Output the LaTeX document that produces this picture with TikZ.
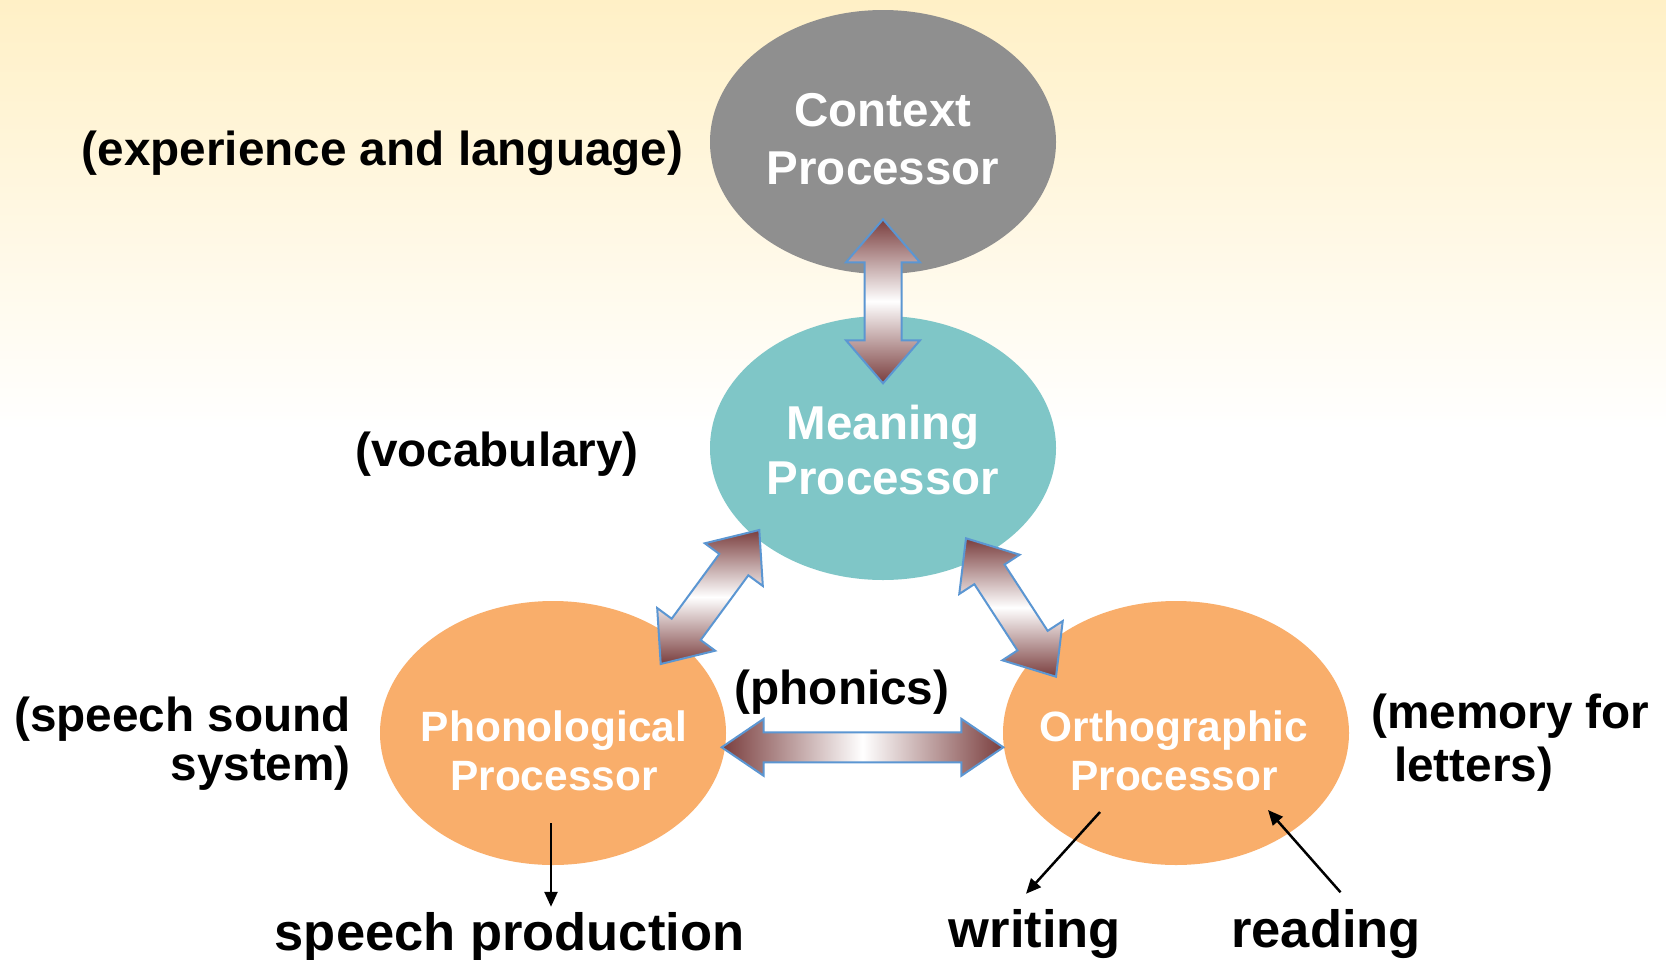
\documentclass[tikz,border=0pt]{standalone}
\usepackage{fontspec}
\setmainfont{Liberation Sans}
\usetikzlibrary{calc,arrows.meta,shapes.geometric}

\definecolor{bgtop}{RGB}{255,240,198}
\definecolor{ctxgray}{RGB}{143,143,143}
\definecolor{meanteal}{RGB}{127,198,199}
\definecolor{procorange}{RGB}{249,174,107}
\definecolor{arrowbrown}{RGB}{122,62,62}
\definecolor{arrowedge}{RGB}{91,150,210}

% Double-headed block arrow between two points:
% #1,#2 tips, #3 half head width, #4 half shaft width, #5 head length, #6 style
\newcommand\blockarrow[6]{%
  \coordinate (baA) at ($(#1)!#5!(#2)$);
  \coordinate (baB) at ($(#2)!#5!(#1)$);
  \path[#6] (#1)
    -- ($(baA)!#3!90:(#2)$) -- ($(baA)!#4!90:(#2)$)
    -- ($(baB)!#4!-90:(#1)$) -- ($(baB)!#3!-90:(#1)$)
    -- (#2)
    -- ($(baB)!#3!90:(#1)$) -- ($(baB)!#4!90:(#1)$)
    -- ($(baA)!#4!-90:(#2)$) -- ($(baA)!#3!-90:(#2)$)
    -- cycle;
}

\tikzset{
  proc/.style={ellipse, minimum width=346pt, minimum height=264pt, inner sep=0pt},
  ptext/.style={text=white, font=\fontsize{47.5}{50}\selectfont\bfseries, anchor=base, inner sep=0pt},
  psmall/.style={text=white, font=\fontsize{42.4}{46}\selectfont\bfseries, anchor=base, inner sep=0pt},
  lbl/.style={font=\fontsize{47.7}{50}\selectfont\bfseries, anchor=base, inner sep=0pt},
  outlbl/.style={font=\fontsize{52.5}{56}\selectfont\bfseries, anchor=base, inner sep=0pt},
  thinarrow/.style={-{Triangle[length=15pt,width=13pt]}, line width=2.5pt},
  vshade/.style={top color=arrowbrown, bottom color=arrowbrown, middle color=white,
                 draw=arrowedge, line width=2pt},
  hshade/.style={left color=arrowbrown, right color=arrowbrown, middle color=white,
                 draw=arrowedge, line width=2pt},
}

\begin{document}
\begin{tikzpicture}[x=1pt, y=-1pt]
  \useasboundingbox (0,0) rectangle (1666,959);

  % background wash
  \fill[white] (0,0) rectangle (1666,959);
  \shade[top color=bgtop, bottom color=white] (0,0) rectangle (1666,430);

  % processors
  \node[proc, fill=ctxgray]     (ctx)  at (883,142) {};
  \node[proc, fill=meanteal]    (mean) at (883,448) {};
  \node[proc, fill=procorange]  (phon) at (553,733) {};
  \node[proc, fill=procorange]  (orth) at (1176,733) {};

  % block arrow end points on the ellipses
  \coordinate (vTop) at ($(ctx)+(0,77.3)$);
  \coordinate (vBot) at ($(mean)+(0,-64.7)$);
  \coordinate (lTop) at ($(mean)+(-123.7,82)$);
  \coordinate (lBot) at ($(phon)+(107.7,-69)$);
  \coordinate (rTop) at ($(mean)+(83,90.3)$);
  \coordinate (rBot) at ($(orth)+(-120,-56.3)$);
  \coordinate (hL)   at ($(phon)+(168.7,14.3)$);
  \coordinate (hR)   at ($(orth)+(-172.7,14.3)$);

  \blockarrow{vTop}{vBot}{37pt}{18.5pt}{43pt}{vshade}
  \blockarrow{lTop}{lBot}{36pt}{18pt}{43pt}{vshade}
  \blockarrow{rTop}{rBot}{36pt}{18pt}{43pt}{vshade}
  \blockarrow{hL}{hR}{28.5pt}{15pt}{42pt}{hshade}

  % processor names
  \node[ptext]  (ctx1)  at ($(ctx)+(0,-15.3)$) {Context};
  \node[ptext]  (ctx2)  at ($(ctx)+(0,42)$)    {Processor};
  \node[ptext]  (mean1) at ($(mean)+(0,-8.7)$) {Meaning};
  \node[ptext]  (mean2) at ($(mean)+(0,46)$)   {Processor};
  \node[psmall] (phon1) at ($(phon)+(1,8)$)    {Phonological};
  \node[psmall] (phon2) at ($(phon)+(1,57)$)   {Processor};
  \node[psmall] (orth1) at ($(orth)+(-2,8)$)   {Orthographic};
  \node[psmall] (orth2) at ($(orth)+(-2,57)$)  {Processor};

  % side labels
  \node[lbl] (exp) at (382.5,165) {(experience and language)};
  \node[lbl] (voc) at (497,466.5) {(vocabulary)};
  \node[lbl, anchor=base east] (ss1) at (351,731) {(speech sound};
  \node[lbl, anchor=base east] (ss2) at (351,780) {system)};
  \node[lbl, anchor=base west] (mem1) at (1371,728) {(memory for};
  \node[lbl, anchor=base west] (mem2) at (1394,781) {letters)};
  \node[lbl] (phonics) at (842,704) {(phonics)};

  % outputs and inputs
  \node[outlbl] (sp) at (509.6,950) {speech production};
  \node[outlbl] (wr) at (1035,947)  {writing};
  \node[outlbl] (rd) at (1326,947)  {reading};

  \coordinate (phonOut) at ($(phon)+(-2,90)$);
  \coordinate (spIn)    at (phonOut |- sp.north);
  \coordinate (wOut)    at ($(orth)+(-76,79)$);
  \coordinate (wIn)     at ($(wr.north)+(-9,-15)$);
  \coordinate (rOut)    at ($(rd.north)+(14.5,-16.5)$);
  \coordinate (rIn)     at ($(orth)+(92,77)$);

  \draw[thinarrow, shorten >=5pt] (phonOut) -- (spIn);
  \draw[thinarrow] (wOut) -- (wIn);
  \draw[thinarrow] (rOut) -- (rIn);
\end{tikzpicture}
\end{document}
